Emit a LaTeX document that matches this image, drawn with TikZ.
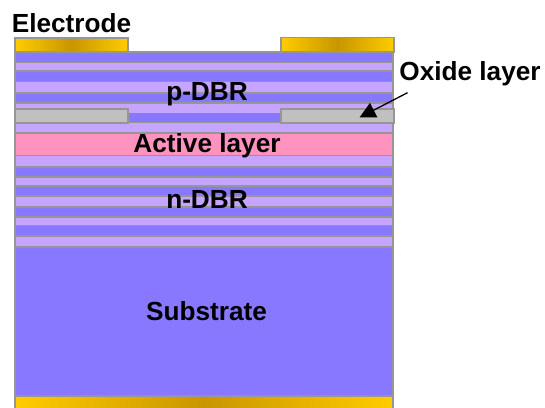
\documentclass[tikz,border=0pt]{standalone}
\usepackage{fontspec}
\setmainfont{Liberation Sans}
\usetikzlibrary{arrows.meta}
\definecolor{barrier}{RGB}{136,120,255}
\definecolor{spacer}{RGB}{197,165,255}
\definecolor{active}{RGB}{255,147,192}
\definecolor{oxide}{RGB}{192,192,192}
\definecolor{edge}{RGB}{150,150,150}
\definecolor{gold}{RGB}{255,204,0}
\definecolor{darkgold}{RGB}{200,150,0}
\tikzset{
    layer/.style={draw=edge, line width=1.5pt},
    metal/.style={layer, left color=gold, right color=gold, middle color=darkgold, shading angle=90, shade},
    label/.style={font=\fontsize{26.2}{26}\bfseries, text=black, inner sep=0pt, anchor=base},
}
\begin{document}
\begin{tikzpicture}[x=1pt, y=-1pt]
\useasboundingbox (0,0) rectangle (545,407);
% substrate and stack
\draw[layer, fill=barrier] (15,52) rectangle (393,396);
\draw[layer, fill=spacer] (15,62.5) rectangle (393,71);
\draw[layer, fill=spacer] (15,81.5) rectangle (393,93);
\draw[layer, fill=spacer] (15,103) rectangle (393,133);
\draw[draw=none, fill=barrier] (128,112.5) rectangle (281,122);
\draw[edge, line width=1.5pt] (128,122.7) -- (281,122.7);
\draw[layer, fill=active] (15,133.5) rectangle (393,155.5);
\draw[layer, fill=spacer] (15,155.5) rectangle (393,167);
\draw[layer, fill=spacer] (15,177) rectangle (393,186);
\draw[layer, fill=spacer] (15,196) rectangle (393,207);
\draw[layer, fill=spacer] (15,217) rectangle (393,225.5);
\draw[layer, fill=spacer] (15,236) rectangle (393,247);
% oxide
\draw[layer, fill=oxide] (15,109) rectangle (128,123);
\draw[layer, fill=oxide] (281,109) rectangle (394,123);
% electrodes
\draw[metal] (15,38) rectangle (128,52);
\draw[metal] (281,37.5) rectangle (394,52);
\draw[metal] (15,396.5) rectangle (393,412);
% labels
\node[label] (electrode) at (71.5,32) {Electrode};
\node[label] (pdbr) at (207,100.7) {p-DBR};
\node[label] (activelabel) at (207,152.5) {Active layer};
\node[label] (ndbr) at (207,208) {n-DBR};
\node[label] (substrate) at (206.5,320.7) {Substrate};
\node[label] (oxidelabel) at (470,80) {Oxide layer};
\coordinate (oxidetip) at (359.5,117.5);
\coordinate (oxidetail) at (407.5,92.7);
\draw[-{Triangle[length=16pt, width=16pt]}, line width=1.3pt] (oxidetail) -- (oxidetip);
\end{tikzpicture}
\end{document}
